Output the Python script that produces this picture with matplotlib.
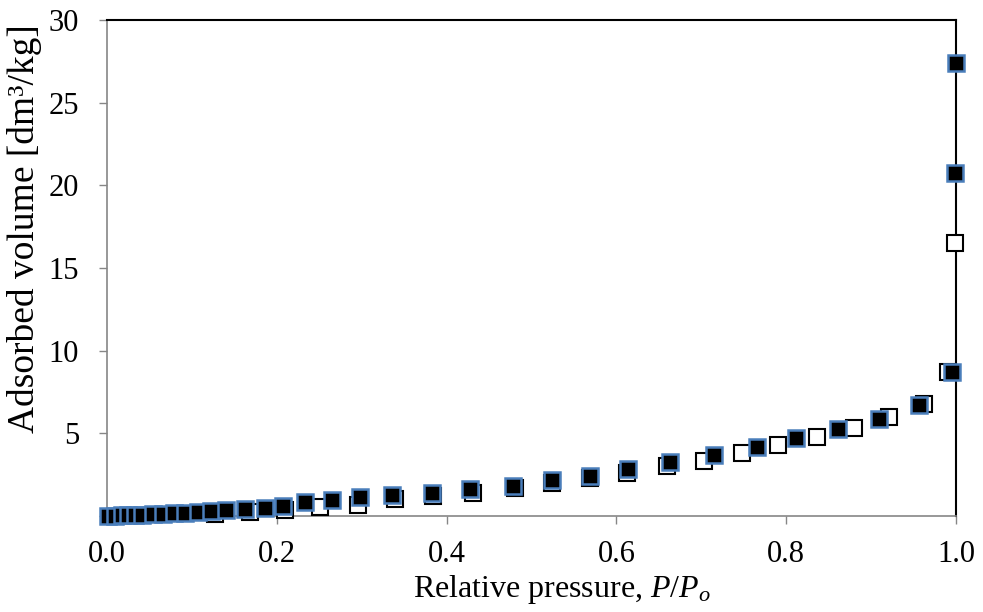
import matplotlib
matplotlib.use("Agg")
import matplotlib.pyplot as plt

plt.rcParams['font.family'] = ['Liberation Serif', 'DejaVu Serif']
plt.rcParams['mathtext.fontset'] = 'custom'
plt.rcParams['mathtext.rm'] = 'Liberation Serif'
plt.rcParams['mathtext.it'] = 'Liberation Serif:italic'

# Filled squares (black fill, blue edge)
filled_x = [0.001, 0.009, 0.018, 0.025, 0.033, 0.041, 0.054, 0.066, 0.079, 0.092,
            0.107, 0.122, 0.140, 0.163, 0.186, 0.207, 0.233, 0.265, 0.298, 0.336,
            0.383, 0.428, 0.478, 0.524, 0.569, 0.614, 0.663, 0.715, 0.766, 0.812,
            0.861, 0.909, 0.956, 0.995, 0.999, 1.000]
filled_y = [0.03, 0.03, 0.06, 0.06, 0.09, 0.09, 0.12, 0.15, 0.18, 0.21,
            0.24, 0.30, 0.36, 0.45, 0.48, 0.63, 0.82, 0.97, 1.12, 1.27,
            1.39, 1.63, 1.81, 2.18, 2.42, 2.84, 3.27, 3.69, 4.17, 4.72,
            5.26, 5.87, 6.72, 8.71, 20.75, 27.4]

# Hollow squares
hollow_x = [0.127, 0.168, 0.210, 0.251, 0.296, 0.339, 0.384, 0.431, 0.481, 0.524,
            0.569, 0.612, 0.660, 0.703, 0.748, 0.790, 0.836, 0.880, 0.921, 0.962,
            0.991, 0.999]
hollow_y = [0.10, 0.24, 0.36, 0.54, 0.67, 1.03, 1.21, 1.39, 1.69, 2.00,
            2.30, 2.60, 3.02, 3.33, 3.81, 4.30, 4.78, 5.32, 5.99, 6.78,
            8.71, 16.5]

x_ticks = [0.0, 0.2, 0.4, 0.6, 0.8, 1.0]
x_ticklabels = ['0.0', '0.2', '0.4', '0.6', '0.8', '1.0']
y_ticks = [0, 5, 10, 15, 20, 25, 30]
y_ticklabels = ['', '5', '10', '15', '20', '25', '30']

fig = plt.figure(figsize=(9.83, 6.12), dpi=100)
ax = fig.add_axes([107/983, 1 - 516/612, (956 - 107)/983, (516 - 20)/612])

ax.plot(hollow_x, hollow_y, linestyle='none', marker='s', markersize=11,
        markerfacecolor='white', markeredgecolor='black', markeredgewidth=1.5,
        clip_on=False, zorder=3)
ax.plot(filled_x, filled_y, linestyle='none', marker='s', markersize=11,
        markerfacecolor='black', markeredgecolor='#4a7ebb', markeredgewidth=1.8,
        clip_on=False, zorder=4)

ax.set_xlim(0, 1.0)
ax.set_ylim(0, 30)
ax.set_xticks(x_ticks)
ax.set_xticklabels(x_ticklabels)
ax.set_yticks(y_ticks)
ax.set_yticklabels(y_ticklabels)

for side in ['left', 'bottom']:
    ax.spines[side].set_color('#868686')
    ax.spines[side].set_linewidth(1.2)
for side in ['top', 'right']:
    ax.spines[side].set_color('black')
    ax.spines[side].set_linewidth(1.5)

ax.tick_params(axis='both', direction='out', length=6, width=1.0, color='#868686',
               labelsize=22, labelcolor='black')
ax.tick_params(axis='y', pad=14)
ax.tick_params(axis='x', pad=11)

ax.set_xlabel(r'Relative pressure, $P/P_o$', fontsize=23, labelpad=0)
ax.set_ylabel('Adsorbed volume [dm³/kg]', fontsize=27)
ax.xaxis.set_label_coords(0.536, -0.115)
ax.yaxis.set_label_coords(-0.0766, 0.58)

fig.savefig('out.png', dpi=100)
